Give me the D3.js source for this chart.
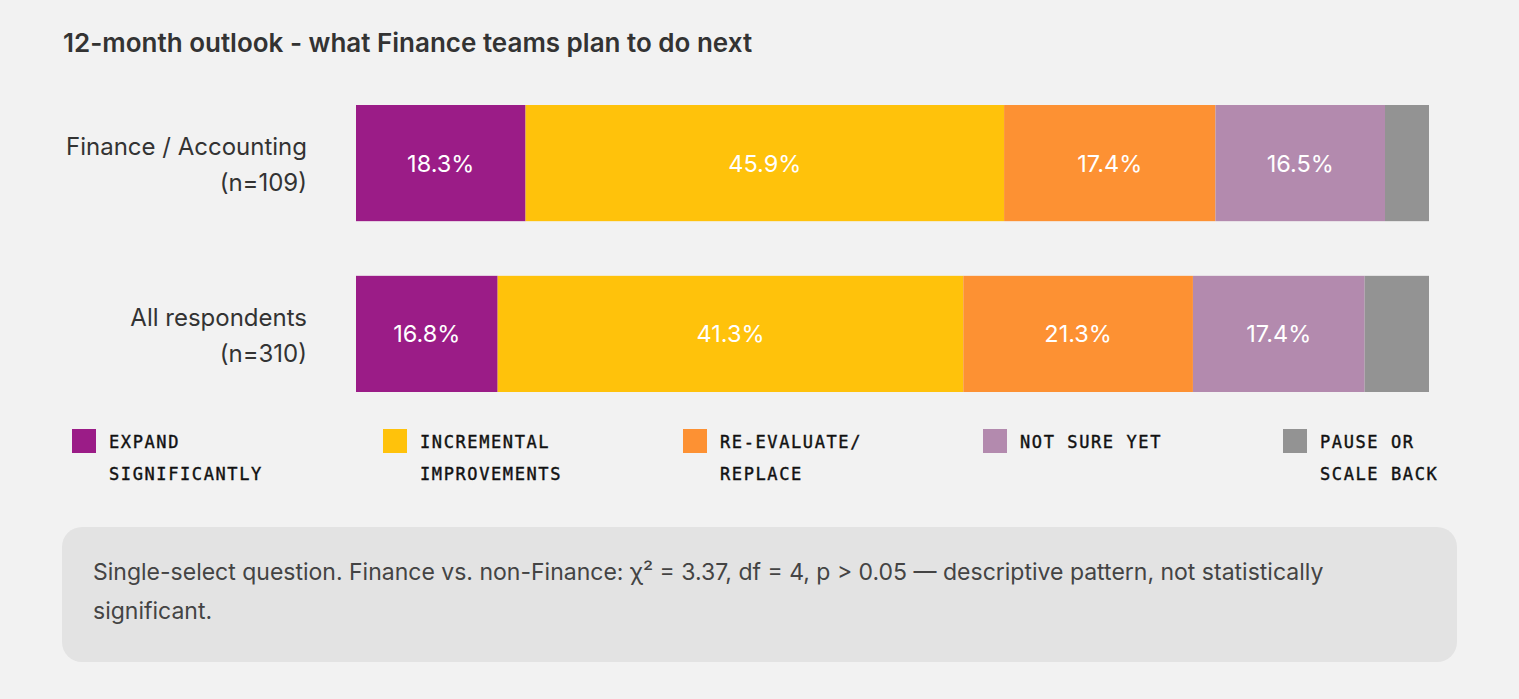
<!DOCTYPE html>
<html lang="en">
<head>
	<meta charset="utf-8">
	<title>12-month outlook</title>
	<script src="https://d3js.org/d3.v7.min.js"></script>
	<style type="text/css">
		body{
			margin: 0;
			background-color: #f2f2f2;
		}
		svg{
			display: block;
		}
	</style>
</head>
<body>
	<svg id="chart" width="1519" height="699"></svg>

	<script type="text/javascript">

	// Categories (answer options) and legend text
	var categories = ["Expand significantly", "Incremental improvements", "Re-evaluate/ replace", "Not sure yet", "Pause or scale back"]
	var legendLines = [
		["EXPAND", "SIGNIFICANTLY"],
		["INCREMENTAL", "IMPROVEMENTS"],
		["RE-EVALUATE/", "REPLACE"],
		["NOT SURE YET"],
		["PAUSE OR", "SCALE BACK"]
	]

	// Groups
	var groups = ["Finance / Accounting", "All respondents"]
	var groupN = ["(n=109)", "(n=310)"]

	// Segment shares as drawn in the picture (percent of bar length)
	var financeShares = [15.8, 44.6, 19.7, 15.8, 4.1]
	var allShares = [13.2, 43.4, 21.4, 16.0, 6.0]

	// Printed percentages
	var financeLabels = ["18.3%", "45.9%", "17.4%", "16.5%", ""]
	var allLabels = ["16.8%", "41.3%", "21.3%", "17.4%", ""]

	var noteText = ["Single-select question. Finance vs. non-Finance: \u03c7\u00b2 = 3.37, df = 4, p > 0.05 \u2014 descriptive pattern, not statistically", "significant."]

	var colors = ["#9b1c87", "#ffc20b", "#fd9133", "#b38aae", "#939393"]

	var sans = "Inter, 'Noto Sans', sans-serif"
	var mono = "'DejaVu Sans Mono', monospace"

	var svg = d3.select("#chart")

	// title
	svg.append("text")
		.attr("x", 63)
		.attr("y", 52)
		.attr("fill", "#333")
		.style("font-family", sans)
		.style("font-size", "26px")
		.style("font-weight", 600)
		.text("12-month outlook - what Finance teams plan to do next")

	var x = d3.scaleLinear()
		.domain([0, 100])
		.range([356, 1429])

	var y = d3.scaleBand()
		.domain(groups)
		.range([105, 392])
		.paddingInner(0.32)

	var color = d3.scaleOrdinal()
		.domain(categories)
		.range(colors)

	var rows = groups.map(function(g, i){
		var shares = i === 0 ? financeShares : allShares
		var labels = i === 0 ? financeLabels : allLabels
		var acc = 0
		var segs = shares.map(function(v, j){
			var s = {cat: categories[j], x0: acc, x1: acc + v, label: labels[j]}
			acc += v
			return s
		})
		return {group: g, n: groupN[i], segs: segs}
	})

	var row = svg.append("g")
		.selectAll("g")
		.data(rows)
		.join("g")
		.attr("transform", d => "translate(0," + y(d.group) + ")")

	row.selectAll("rect")
		.data(d => d.segs)
		.join("rect")
		.attr("x", d => x(d.x0))
		.attr("width", d => x(d.x1) - x(d.x0))
		.attr("y", 0)
		.attr("height", y.bandwidth())
		.attr("fill", d => color(d.cat))

	row.selectAll("text.val")
		.data(d => d.segs)
		.join("text")
		.attr("class", "val")
		.attr("x", d => (x(d.x0) + x(d.x1)) / 2)
		.attr("y", y.bandwidth() / 2)
		.attr("dy", "0.36em")
		.attr("text-anchor", "middle")
		.attr("fill", "#fff")
		.style("font-family", sans)
		.style("font-size", "23.5px")
		.text(d => d.label)

	// row labels
	row.append("text")
		.attr("x", 307)
		.attr("y", y.bandwidth() / 2 - 17)
		.attr("dy", "0.36em")
		.attr("text-anchor", "end")
		.attr("fill", "#333")
		.style("font-family", sans)
		.style("font-size", "24px")
		.text(d => d.group)
		.clone(true)
		.attr("y", y.bandwidth() / 2 + 19)
		.text(d => d.n)

	// legend
	var legendX = i => i === 0 ? 72 : 83 + i * 300

	var legend = svg.append("g")
		.selectAll("g")
		.data(categories)
		.join("g")
		.attr("transform", (d, i) => "translate(" + legendX(i) + ",429)")

	legend.append("rect")
		.attr("width", 24)
		.attr("height", 24)
		.attr("fill", d => color(d))

	legend.selectAll("text")
		.data((d, i) => legendLines[i])
		.join("text")
		.attr("x", 37)
		.attr("y", (d, i) => 13 + i * 32)
		.attr("dy", "0.36em")
		.attr("fill", "#111")
		.attr("stroke", "#111")
		.attr("stroke-width", 0.4)
		.style("font-family", mono)
		.style("font-size", "17px")
		.style("letter-spacing", "1.6px")
		.text(d => d)

	// note box
	svg.append("rect")
		.attr("x", 62)
		.attr("y", 527)
		.attr("width", 1395)
		.attr("height", 135)
		.attr("rx", 20)
		.attr("fill", "#e3e3e3")

	svg.append("g")
		.selectAll("text")
		.data(noteText)
		.join("text")
		.attr("x", 93)
		.attr("y", (d, i) => 572 + i * 39)
		.attr("dy", "0.36em")
		.attr("fill", "#444")
		.style("font-family", sans)
		.style("font-size", "23px")
		.text(d => d)

	</script>
</body>
</html>
